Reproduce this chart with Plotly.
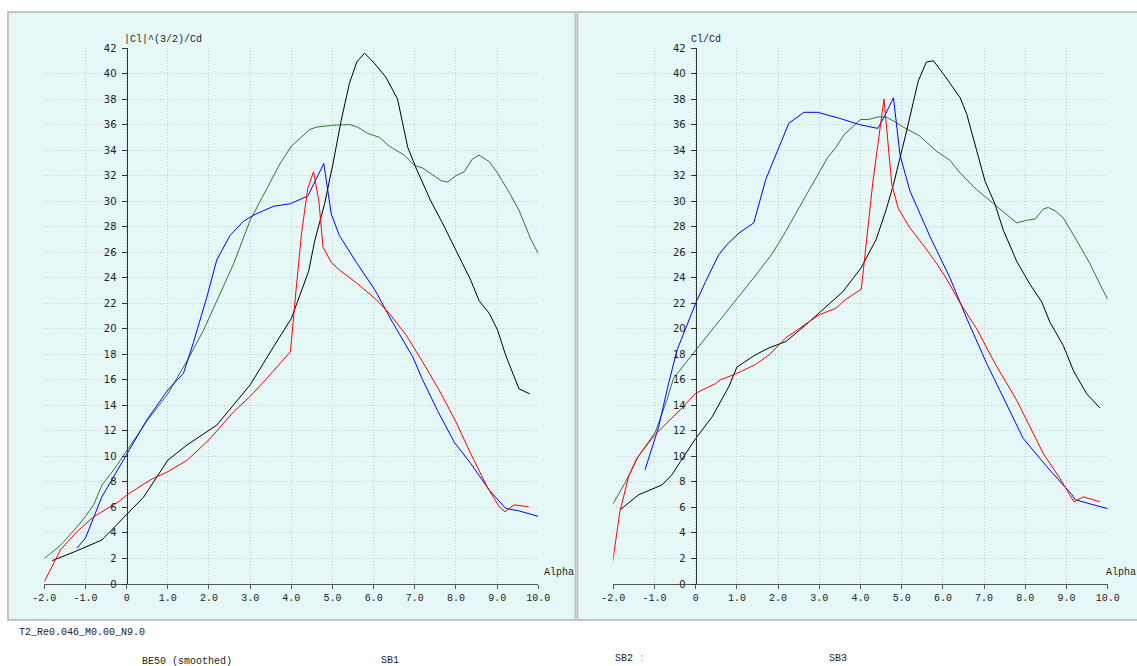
import plotly.graph_objects as go

W, H = 1137, 666

# ---------------- data: left panel  |Cl|^(3/2)/Cd ----------------
L_green_a = [-2.0, -1.6, -1.2, -1.0, -0.8, -0.6, -0.3, 0.0, 0.5, 1.0, 1.47, 1.87, 2.2, 2.6, 3.0, 3.4, 3.72, 4.0,
             4.44, 4.61, 5.01, 5.41, 5.61, 5.86, 6.14, 6.38, 6.75, 6.99, 7.19, 7.64, 7.8, 8.0, 8.2, 8.4, 8.56,
             8.81, 9.01, 9.29, 9.53, 9.82, 10.0]
L_green_v = [2.0, 3.05, 4.5, 5.3, 6.2, 7.75, 9.0, 10.4, 12.8, 14.9, 17.5, 19.9, 22.2, 25.1, 28.5, 30.9, 32.9, 34.3,
             35.6, 35.8, 35.95, 36.0, 35.8, 35.3, 35.0, 34.3, 33.6, 32.8, 32.6, 31.6, 31.5, 32.0, 32.3, 33.3, 33.6,
             33.1, 32.2, 30.7, 29.3, 27.0, 25.9]

L_black_a = [-1.81, -1.21, -0.6, 0.0, 0.41, 1.0, 1.47, 2.19, 3.0, 3.57, 4.0, 4.42, 4.57, 4.81, 5.01, 5.21, 5.41,
             5.59, 5.78, 6.02, 6.3, 6.58, 6.83, 7.03, 7.19, 7.39, 7.67, 8.0, 8.36, 8.56, 8.81, 9.01, 9.21, 9.53, 9.79]
L_black_v = [1.83, 2.6, 3.45, 5.4, 6.8, 9.7, 10.9, 12.45, 15.6, 18.6, 20.8, 24.5, 26.9, 29.8, 32.9, 36.3, 39.2,
             40.9, 41.6, 40.8, 39.7, 38.0, 34.2, 32.6, 31.5, 30.0, 28.3, 26.1, 23.8, 22.2, 21.2, 19.9, 17.9, 15.3, 14.9]

L_red_a = [-2.0, -1.61, -1.21, -0.8, -0.19, 0.0, 0.57, 1.0, 1.47, 2.0, 2.6, 3.0, 3.4, 3.98, 4.1, 4.25, 4.4, 4.54,
           4.67, 4.77, 4.97, 5.17, 5.58, 6.06, 6.38, 6.79, 7.19, 7.59, 8.0, 8.36, 8.76, 9.05, 9.19, 9.41, 9.77]
L_red_v = [0.18, 2.66, 4.1, 5.27, 6.45, 6.97, 8.15, 8.8, 9.7, 11.3, 13.5, 14.7, 16.1, 18.2, 22.5, 27.5, 31.0, 32.3,
           30.0, 26.4, 25.2, 24.6, 23.6, 22.3, 21.2, 19.5, 17.4, 15.2, 12.7, 10.2, 7.6, 6.05, 5.66, 6.2, 6.05]

L_blue_a = [-1.21, -1.0, -0.6, 0.0, 0.49, 1.0, 1.38, 1.62, 1.95, 2.19, 2.51, 2.83, 3.08, 3.57, 3.98, 4.4, 4.79,
            4.97, 5.17, 5.58, 6.02, 6.46, 6.95, 7.19, 7.55, 7.96, 8.36, 8.81, 9.21, 9.53, 10.0]
L_blue_v = [2.8, 3.6, 6.84, 10.1, 12.85, 15.2, 16.5, 18.9, 22.5, 25.4, 27.3, 28.4, 28.9, 29.6, 29.8, 30.4, 32.95,
            29.0, 27.3, 25.2, 23.1, 20.5, 17.8, 16.0, 13.6, 11.1, 9.44, 7.35, 5.92, 5.73, 5.3]

# ---------------- data: right panel  Cl/Cd ----------------
R_green_a = [-2.02, -1.72, -1.39, -0.98, -0.7, -0.54, -0.25, 0.0, 0.48, 1.0, 1.41, 1.86, 2.18, 2.67, 3.0, 3.2, 3.4,
             3.6, 4.0, 4.2, 4.42, 4.62, 4.84, 5.04, 5.44, 5.85, 6.17, 6.42, 6.82, 7.22, 7.55, 7.79, 8.03, 8.24,
             8.44, 8.56, 8.72, 8.92, 9.25, 9.57, 9.81, 10.0]
R_green_v = [6.2, 7.9, 10.0, 11.9, 14.4, 16.1, 17.3, 18.3, 20.2, 22.3, 24.0, 25.9, 27.6, 30.4, 32.2, 33.4, 34.2,
             35.2, 36.4, 36.4, 36.6, 36.6, 36.2, 35.8, 35.1, 33.9, 33.2, 32.2, 30.9, 29.8, 28.9, 28.3, 28.5, 28.6,
             29.4, 29.5, 29.25, 28.7, 26.9, 25.1, 23.5, 22.3]

R_black_a = [-1.84, -1.39, -0.82, -0.58, -0.37, 0.0, 0.4, 0.81, 1.0, 1.45, 1.78, 2.19, 2.67, 3.08, 3.57, 4.01, 4.38,
             4.62, 4.8, 5.12, 5.4, 5.6, 5.77, 6.05, 6.42, 6.58, 6.82, 7.02, 7.26, 7.47, 7.79, 8.11, 8.4, 8.6, 8.92,
             9.17, 9.49, 9.81]
R_black_v = [5.8, 6.98, 7.76, 8.55, 9.6, 11.4, 13.1, 15.5, 17.0, 17.96, 18.5, 19.0, 20.3, 21.5, 22.9, 24.75, 27.0,
             29.3, 31.3, 35.5, 39.4, 40.9, 41.0, 39.8, 38.1, 36.8, 33.9, 31.6, 29.8, 27.7, 25.3, 23.5, 22.1, 20.5,
             18.7, 16.7, 14.9, 13.8]

R_red_a = [-2.02, -1.84, -1.63, -1.43, -0.99, -0.58, -0.33, 0.0, 0.48, 0.6, 1.0, 1.45, 1.78, 2.19, 2.63, 3.0, 3.4,
           3.64, 4.02, 4.3, 4.57, 4.76, 4.92, 5.2, 5.56, 5.85, 6.09, 6.42, 6.82, 7.26, 7.79, 8.11, 8.44, 8.84, 9.18,
           9.41, 9.81]
R_red_v = [1.6, 5.67, 8.4, 9.85, 11.7, 13.0, 13.8, 14.95, 15.7, 16.0, 16.5, 17.2, 17.95, 19.3, 20.3, 21.1, 21.6,
           22.3, 23.1, 31.5, 38.0, 31.3, 29.4, 27.9, 26.4, 25.1, 23.9, 22.0, 20.0, 17.3, 14.4, 12.3, 10.2, 8.27, 6.44,
           6.83, 6.44]

R_blue_a = [-1.23, -0.9, -0.66, -0.45, 0.0, 0.24, 0.56, 0.76, 1.05, 1.41, 1.7, 2.02, 2.26, 2.63, 2.96, 3.48, 3.97,
            4.42, 4.59, 4.8, 4.96, 5.2, 5.44, 5.69, 6.17, 6.58, 7.06, 7.47, 7.95, 8.52, 9.13, 9.21, 9.57, 10.0]
R_blue_v = [8.94, 12.3, 15.7, 18.35, 22.0, 23.7, 25.8, 26.6, 27.5, 28.3, 31.7, 34.3, 36.1, 36.96, 36.96, 36.5, 36.0,
            35.7, 36.7, 38.1, 33.6, 30.8, 29.0, 27.2, 24.0, 20.8, 17.3, 14.6, 11.4, 9.2, 7.0, 6.6, 6.3, 5.9]

# ---------------- axis labels & texts ----------------
x_ticks = list(range(-2, 11))
x_ticktext = ["-2.0", "-1.0", "0", "1.0", "2.0", "3.0", "4.0", "5.0", "6.0", "7.0", "8.0", "9.0", "10.0"]
y_ticks = list(range(0, 43, 2))
left_title = "|Cl|^(3/2)/Cd"
right_title = "Cl/Cd"
x_title = "Alpha"
foil_name = "T2_Re0.046_M0.00_N9.0"
series_names = ["BE50 (smoothed)", "SB1", "SB2", "SB3"]

GREEN = "#2d7a2d"
RED = "#ff0000"
BLUE = "#0000ff"
BLACK = "#000000"
BG = "#e5f8f7"
MONO = "Liberation Mono"
GRID = "#c6cbcb"
GRID_DASH = "1px,2px"


def px(x):
    return x / W


def py(y):
    return 1 - y / H


fig = go.Figure()

left = [(L_green_a, L_green_v, GREEN), (L_black_a, L_black_v, BLACK),
        (L_blue_a, L_blue_v, BLUE), (L_red_a, L_red_v, RED)]
right = [(R_green_a, R_green_v, GREEN), (R_black_a, R_black_v, BLACK),
         (R_blue_a, R_blue_v, BLUE), (R_red_a, R_red_v, RED)]

for a, v, c in left:
    fig.add_trace(go.Scatter(x=a, y=v, mode="lines", line=dict(color=c, width=1),
                             xaxis="x", yaxis="y", showlegend=False, hoverinfo="skip"))
for a, v, c in right:
    fig.add_trace(go.Scatter(x=a, y=v, mode="lines", line=dict(color=c, width=1),
                             xaxis="x2", yaxis="y2", showlegend=False, hoverinfo="skip"))

ydom = [py(584), py(48)]

xcommon = dict(range=[-2, 10], tickmode="array", tickvals=x_ticks, ticktext=x_ticktext,
               ticks="outside", ticklen=4, tickcolor="#555", showline=True, linecolor="#555", linewidth=1,
               showgrid=True, gridcolor=GRID, griddash=GRID_DASH, gridwidth=1, zeroline=False,
               automargin=False,
               tickfont=dict(family=MONO, size=10, color="#222"), fixedrange=True)
ycommon = dict(range=[0, 42], tickmode="array", tickvals=y_ticks, ticks="outside", ticklen=5, tickcolor="#333",
               showline=True, linecolor="#333", linewidth=1, showgrid=True, gridcolor=GRID,
               griddash=GRID_DASH, gridwidth=1, zeroline=False, domain=ydom, automargin=False,
               tickfont=dict(family="DejaVu Sans", size=10, color="#222"), ticklabelstandoff=3,
               fixedrange=True)

fig.update_layout(
    width=W, height=H, margin=dict(l=0, r=0, t=0, b=0, pad=0, autoexpand=False),
    paper_bgcolor="white", plot_bgcolor="rgba(0,0,0,0)",
    xaxis=dict(domain=[px(44.3), px(538.3)], anchor="y", **xcommon),
    yaxis=dict(anchor="free", position=px(126.6), **ycommon),
    xaxis2=dict(domain=[px(613.3), px(1107.7)], anchor="y2", **xcommon),
    yaxis2=dict(anchor="free", position=px(695.7), **ycommon),
)

shapes = [
    dict(type="rect", xref="paper", yref="paper", x0=px(8), x1=px(575.5), y0=py(620), y1=py(12),
         fillcolor=BG, line=dict(color="#c4c4c4", width=2), layer="below"),
    dict(type="rect", xref="paper", yref="paper", x0=px(577.5), x1=px(1145), y0=py(620), y1=py(12),
         fillcolor=BG, line=dict(color="#c4c4c4", width=2), layer="below"),
]
fig.update_layout(shapes=shapes)

ann = []


def text(x, y, s, size=10, family=MONO, color="#222"):
    ann.append(dict(xref="paper", yref="paper", x=px(x), y=py(y), text=s, showarrow=False,
                    xanchor="left", yanchor="middle", font=dict(family=family, size=size, color=color)))


text(122, 40, left_title)
text(689, 40, right_title)
text(542, 572, x_title)
text(1104, 572, x_title)
text(17, 632, foil_name)
text(140, 661, series_names[0])
text(379, 660, series_names[1])
text(613, 658, series_names[2])
text(637, 658, ":", color="#ff9900")
text(827, 658, series_names[3])
fig.update_layout(annotations=ann)

fig.write_html("out.html")
